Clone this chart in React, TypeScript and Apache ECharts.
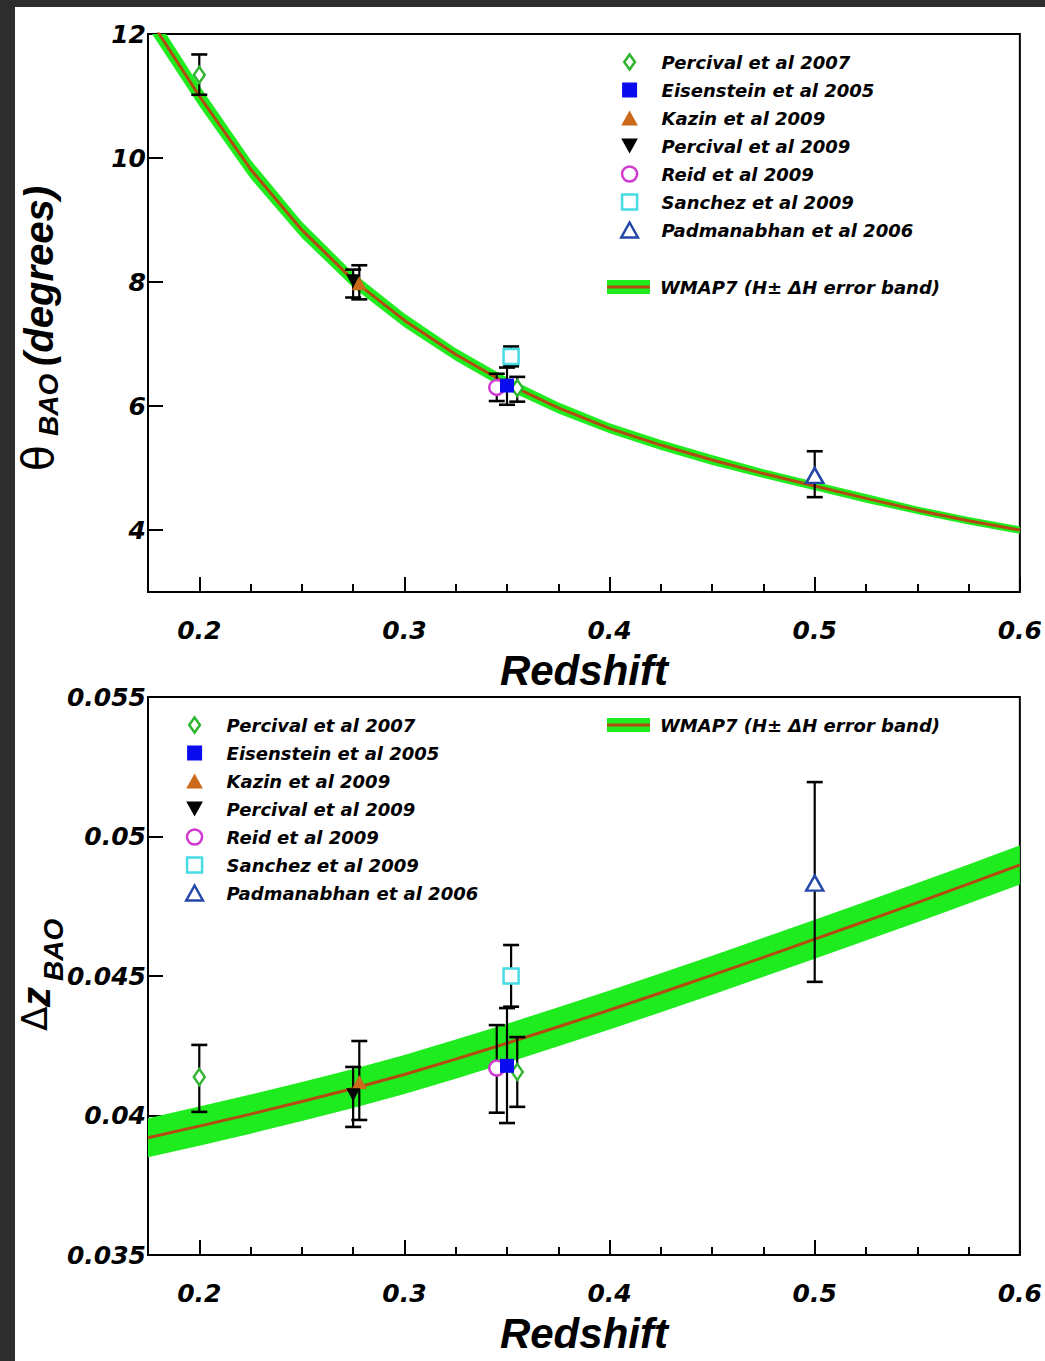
import React, { useEffect, useRef } from "react";
import * as echarts from "echarts";

// Redshift samples of the WMAP7 prediction
const zModel = [0.175, 0.2, 0.225, 0.25, 0.275, 0.3, 0.325, 0.35, 0.375, 0.4, 0.425, 0.45, 0.475, 0.5, 0.525, 0.55, 0.575, 0.6];

// Angular BAO scale (degrees): central value and H ± ΔH band
const thetaModel = [12.28, 11.0, 9.82, 8.84, 8.03, 7.38, 6.83, 6.36, 5.97, 5.64, 5.37, 5.13, 4.91, 4.71, 4.51, 4.32, 4.15, 4.0];
const thetaModelHigh = [12.46, 11.17, 9.97, 8.97, 8.15, 7.49, 6.93, 6.46, 6.06, 5.72, 5.45, 5.21, 4.98, 4.78, 4.58, 4.38, 4.21, 4.06];
const thetaModelLow = [12.1, 10.84, 9.67, 8.71, 7.91, 7.27, 6.73, 6.26, 5.88, 5.56, 5.29, 5.05, 4.84, 4.64, 4.44, 4.26, 4.09, 3.94];

// Radial BAO scale: central value and H ± ΔH band
const dzModel = [0.0392, 0.03962, 0.04005, 0.0405, 0.04097, 0.04147, 0.04202, 0.04259, 0.04318, 0.04378, 0.0444, 0.04503, 0.04567, 0.04632, 0.04697, 0.04763, 0.0483, 0.04898];
const dzModelHigh = [0.0399, 0.04032, 0.04075, 0.0412, 0.04167, 0.04217, 0.04272, 0.04329, 0.04388, 0.04448, 0.0451, 0.04573, 0.04637, 0.04702, 0.04767, 0.04833, 0.049, 0.04968];
const dzModelLow = [0.0385, 0.03892, 0.03935, 0.0398, 0.04027, 0.04077, 0.04132, 0.04189, 0.04248, 0.04308, 0.0437, 0.04433, 0.04497, 0.04562, 0.04627, 0.04693, 0.0476, 0.04828];

// Axis ticks
const xMajorTicks = [0.2, 0.3, 0.4, 0.5, 0.6];
const xMinorTicks = [0.225, 0.25, 0.275, 0.325, 0.35, 0.375, 0.425, 0.45, 0.475, 0.525, 0.55, 0.575];
const thetaTicks = [4, 6, 8, 10, 12];
const dzTicks = [0.035, 0.04, 0.045, 0.05, 0.055];

// Survey names, in legend order
const surveyNames = [
  "Percival et al 2007",
  "Eisenstein et al 2005",
  "Kazin et al 2009",
  "Percival et al 2009",
  "Reid et al 2009",
  "Sanchez et al 2009",
  "Padmanabhan et al 2006",
];

// Measurements: [z, value, lower error, upper error]
const thetaPercival2007 = [[0.2, 11.34, 11.02, 11.67], [0.355, 6.29, 6.07, 6.47]];
const thetaEisenstein2005 = [[0.35, 6.33, 6.02, 6.62]];
const thetaKazin2009 = [[0.278, 7.98, 7.72, 8.27]];
const thetaPercival2009 = [[0.275, 8.02, 7.75, 8.2]];
const thetaReid2009 = [[0.345, 6.3, 6.08, 6.52]];
const thetaSanchez2009 = [[0.352, 6.8, 6.64, 6.96]];
const thetaPadmanabhan2006 = [[0.5, 4.88, 4.53, 5.27]];

const dzPercival2007 = [[0.2, 0.04138, 0.04013, 0.04253], [0.355, 0.04156, 0.04031, 0.04281]];
const dzEisenstein2005 = [[0.35, 0.04178, 0.03973, 0.04385]];
const dzKazin2009 = [[0.278, 0.0412, 0.03984, 0.04267]];
const dzPercival2009 = [[0.275, 0.04074, 0.03959, 0.04174]];
const dzReid2009 = [[0.345, 0.0417, 0.0401, 0.04324]];
const dzSanchez2009 = [[0.352, 0.045, 0.0439, 0.04611]];
const dzPadmanabhan2006 = [[0.5, 0.04833, 0.04479, 0.05195]];

const thetaData: Record<string, number[][]> = {
  "Percival et al 2007": thetaPercival2007,
  "Eisenstein et al 2005": thetaEisenstein2005,
  "Kazin et al 2009": thetaKazin2009,
  "Percival et al 2009": thetaPercival2009,
  "Reid et al 2009": thetaReid2009,
  "Sanchez et al 2009": thetaSanchez2009,
  "Padmanabhan et al 2006": thetaPadmanabhan2006,
};
const dzData: Record<string, number[][]> = {
  "Percival et al 2007": dzPercival2007,
  "Eisenstein et al 2005": dzEisenstein2005,
  "Kazin et al 2009": dzKazin2009,
  "Percival et al 2009": dzPercival2009,
  "Reid et al 2009": dzReid2009,
  "Sanchez et al 2009": dzSanchez2009,
  "Padmanabhan et al 2006": dzPadmanabhan2006,
};

// Marker shapes (path symbols keep their aspect ratio in the legend)
const DIAMOND = "path://M5,0L10,7L5,14L0,7Z";
const SQUARE = "path://M0,0L10,0L10,10L0,10Z";
const UP_TRIANGLE = "path://M5,0L10,9L0,9Z";
const DOWN_TRIANGLE = "path://M0,0L10,0L5,9Z";
const CIRCLE = "path://M0,5A5,5 0 1,1 10,5A5,5 0 1,1 0,5Z";

type MarkerStyle = { symbol: string; size: number[]; fill: string; stroke?: string; strokeWidth?: number };
const markerStyles: Record<string, MarkerStyle> = {
  "Percival et al 2007": { symbol: DIAMOND, size: [11, 16], fill: "#ffffff", stroke: "#2fb52f", strokeWidth: 2.5 },
  "Eisenstein et al 2005": { symbol: SQUARE, size: [14, 14], fill: "#0b0bf0" },
  "Kazin et al 2009": { symbol: UP_TRIANGLE, size: [15, 14], fill: "#cc6a1c" },
  "Percival et al 2009": { symbol: DOWN_TRIANGLE, size: [14, 13], fill: "#000000" },
  "Reid et al 2009": { symbol: CIRCLE, size: [15, 15], fill: "#ffffff", stroke: "#d13ad1", strokeWidth: 2.5 },
  "Sanchez et al 2009": { symbol: SQUARE, size: [15, 15], fill: "#ffffff", stroke: "#47dbe3", strokeWidth: 2.5 },
  "Padmanabhan et al 2006": { symbol: UP_TRIANGLE, size: [17, 15], fill: "#ffffff", stroke: "#2447a8", strokeWidth: 2.5 },
};
// drawing order (later ones on top)
const drawOrder = [
  "Percival et al 2007",
  "Reid et al 2009",
  "Eisenstein et al 2005",
  "Kazin et al 2009",
  "Percival et al 2009",
  "Sanchez et al 2009",
  "Padmanabhan et al 2006",
];

const BAND_GREEN = "#1fec1f";
const LINE_BROWN = "#b24a12";
const TICK_FONT = { fontFamily: "DejaVu Sans", fontStyle: "italic" as const, fontWeight: "bold" as const, fontSize: 25, color: "#000", lineHeight: 25 };
const LEGEND_FONT = { fontFamily: "DejaVu Sans", fontStyle: "italic" as const, fontWeight: "bold" as const, fontSize: 18, color: "#000" };
const TITLE_FONT = { fontFamily: "Liberation Sans", fontStyle: "italic" as const, fontWeight: "bold" as const };

const GRID_LEFT = 148;
const GRID_W = 872;
const GRID_H = 558;
const TOP_GRID_TOP = 34;
const BOTTOM_GRID_TOP = 697;

function itemStyleOf(s: MarkerStyle) {
  return s.stroke
    ? { color: s.fill, borderColor: s.stroke, borderWidth: s.strokeWidth, opacity: 1 }
    : { color: s.fill, borderWidth: 0, opacity: 1 };
}

function xAxes(gridIndex: number) {
  return [
    {
      type: "value",
      gridIndex,
      position: "bottom",
      min: 0.175,
      max: 0.6,
      name: "Redshift",
      nameLocation: "middle",
      nameGap: 57,
      nameTextStyle: { ...TITLE_FONT, fontSize: 42, lineHeight: 42, color: "#000" },
      axisLine: { show: true, onZero: false, lineStyle: { color: "#000", width: 2 } },
      axisTick: { show: true, inside: true, length: 15, customValues: xMajorTicks, lineStyle: { color: "#000", width: 2 } },
      axisLabel: { ...TICK_FONT, margin: 26, customValues: xMajorTicks, formatter: (v: number) => v.toFixed(1) },
      splitLine: { show: false },
    },
    {
      type: "value",
      gridIndex,
      position: "bottom",
      min: 0.175,
      max: 0.6,
      axisLine: { show: false, onZero: false },
      axisTick: { show: true, inside: true, length: 8, customValues: xMinorTicks, lineStyle: { color: "#000", width: 2 } },
      axisLabel: { show: false },
      splitLine: { show: false },
    },
  ];
}

function yAxis(gridIndex: number, min: number, max: number, ticks: number[], fmt: (v: number) => string) {
  return {
    type: "value",
    gridIndex,
    position: "left",
    min,
    max,
    axisLine: { show: true, onZero: false, lineStyle: { color: "#000", width: 2 } },
    axisTick: { show: true, inside: true, length: 15, customValues: ticks, lineStyle: { color: "#000", width: 2 } },
    axisLabel: { ...TICK_FONT, margin: 2, customValues: ticks, formatter: fmt },
    splitLine: { show: false },
  };
}

function bandSeries(xAxisIndex: number, yAxisIndex: number, high: number[], low: number[], anchor: number[]) {
  return {
    type: "custom",
    xAxisIndex,
    yAxisIndex,
    clip: true,
    silent: true,
    z: 1,
    data: [anchor],
    renderItem: (_params: any, api: any) => {
      const pts: number[][] = [];
      for (let i = 0; i < zModel.length; i++) pts.push(api.coord([zModel[i], high[i]]));
      for (let i = zModel.length - 1; i >= 0; i--) pts.push(api.coord([zModel[i], low[i]]));
      return { type: "polygon", shape: { points: pts }, style: { fill: BAND_GREEN, stroke: "none" } };
    },
  };
}

function centerLine(xAxisIndex: number, yAxisIndex: number, values: number[]) {
  return {
    type: "line",
    name: "WMAP7",
    xAxisIndex,
    yAxisIndex,
    data: zModel.map((z, i) => [z, values[i]]),
    symbol: "none",
    clip: true,
    silent: true,
    z: 2,
    lineStyle: { color: LINE_BROWN, width: 3 },
  };
}

function errorBarSeries(xAxisIndex: number, yAxisIndex: number, data: Record<string, number[][]>) {
  const rows: number[][] = [];
  surveyNames.forEach((n) => data[n].forEach((d) => rows.push([d[0], d[2], d[3]])));
  return {
    type: "custom",
    xAxisIndex,
    yAxisIndex,
    silent: true,
    z: 3,
    data: rows,
    encode: { x: 0, y: [1, 2] },
    renderItem: (_params: any, api: any) => {
      const z = api.value(0);
      const lo = api.coord([z, api.value(1)]);
      const hi = api.coord([z, api.value(2)]);
      const hw = 8;
      const st = { stroke: "#000", lineWidth: 2.2 };
      return {
        type: "group",
        children: [
          { type: "line", shape: { x1: lo[0], y1: lo[1], x2: hi[0], y2: hi[1] }, style: st },
          { type: "line", shape: { x1: lo[0] - hw, y1: lo[1], x2: lo[0] + hw, y2: lo[1] }, style: { ...st, lineWidth: 2.6 } },
          { type: "line", shape: { x1: hi[0] - hw, y1: hi[1], x2: hi[0] + hw, y2: hi[1] }, style: { ...st, lineWidth: 2.6 } },
        ],
      };
    },
  };
}

function markerSeries(xAxisIndex: number, yAxisIndex: number, data: Record<string, number[][]>) {
  return drawOrder.map((name, k) => {
    const s = markerStyles[name];
    return {
      type: "scatter",
      name,
      xAxisIndex,
      yAxisIndex,
      data: data[name].map((d) => [d[0], d[1]]),
      symbol: s.symbol,
      symbolSize: s.size,
      symbolKeepAspect: false,
      itemStyle: itemStyleOf(s),
      silent: true,
      z: 4 + k * 0.01,
    };
  });
}

function legendAt(left: number, top: number) {
  return {
    orient: "vertical",
    left,
    top,
    padding: 0,
    itemGap: 0,
    itemWidth: 54,
    itemHeight: 15,
    symbolKeepAspect: true,
    selectedMode: false,
    textStyle: { ...LEGEND_FONT, lineHeight: 28 },
    data: surveyNames.map((name) => {
      const s = markerStyles[name];
      return { name, icon: s.symbol, itemStyle: itemStyleOf(s) };
    }),
  };
}

function wmapLegend(x: number, y: number) {
  return [
    { type: "rect", shape: { x, y: y - 7, width: 43, height: 14 }, style: { fill: BAND_GREEN }, z: 10 },
    { type: "line", shape: { x1: x, y1: y, x2: x + 43, y2: y }, style: { stroke: LINE_BROWN, lineWidth: 3 }, z: 11 },
    {
      type: "text",
      x: x + 53,
      y,
      z: 11,
      style: { text: "WMAP7 (H\u00b1 \u0394H error band)", ...LEGEND_FONT, fill: "#000", align: "left", verticalAlign: "middle" },
    },
  ];
}

function vText(text: string, x: number, y: number, size: number, family: string, italic: boolean, bold: boolean) {
  return {
    type: "text",
    x,
    y,
    rotation: Math.PI / 2,
    z: 11,
    style: {
      text,
      fontSize: size,
      fontFamily: family,
      fontStyle: italic ? "italic" : "normal",
      fontWeight: bold ? "bold" : "normal",
      fill: "#000",
      align: "left",
      verticalAlign: "middle",
    },
  };
}

export default function App() {
  const ref = useRef<HTMLDivElement>(null);

  useEffect(() => {
    if (!ref.current) return;
    const chart = echarts.init(ref.current, null, { renderer: "svg" });
    const option: any = {
      animation: false,
      backgroundColor: "transparent",
      grid: [
        { left: GRID_LEFT, top: TOP_GRID_TOP, width: GRID_W, height: GRID_H, show: true, borderColor: "#000", borderWidth: 2, backgroundColor: "transparent" },
        { left: GRID_LEFT, top: BOTTOM_GRID_TOP, width: GRID_W, height: GRID_H, show: true, borderColor: "#000", borderWidth: 2, backgroundColor: "transparent" },
      ],
      xAxis: [...xAxes(0), ...xAxes(1)],
      yAxis: [
        yAxis(0, 3, 12, thetaTicks, (v: number) => String(v)),
        yAxis(1, 0.035, 0.055, dzTicks, (v: number) => String(parseFloat(v.toFixed(3)))),
      ],
      legend: [legendAt(620, 48), legendAt(185, 711)],
      series: [
        bandSeries(0, 0, thetaModelHigh, thetaModelLow, [zModel[9], thetaModel[9]]),
        centerLine(0, 0, thetaModel),
        errorBarSeries(0, 0, thetaData),
        ...markerSeries(0, 0, thetaData),
        bandSeries(2, 1, dzModelHigh, dzModelLow, [zModel[9], dzModel[9]]),
        centerLine(2, 1, dzModel),
        errorBarSeries(2, 1, dzData),
        ...markerSeries(2, 1, dzData),
      ],
      graphic: [
        ...wmapLegend(607, 287),
        ...wmapLegend(607, 725),
        // theta_BAO (degrees)
        vText("\u03b8", 38, 471, 42, "DejaVu Sans", false, false),
        vText("BAO", 48, 436, 28, "Liberation Sans", true, true),
        vText("(degrees)", 39, 366, 40, "Liberation Sans", true, true),
        // Delta z_BAO
        vText("\u0394", 34, 1031, 36, "DejaVu Sans", false, false),
        vText("z", 36, 1007, 40, "Liberation Sans", true, true),
        vText("BAO", 53, 981, 28, "Liberation Sans", true, true),
      ],
    };
    chart.setOption(option);
    return () => chart.dispose();
  }, []);

  return (
    <div style={{ position: "absolute", left: 0, top: 0, width: 1045, height: 1361, background: "#2d2d2d", overflow: "hidden" }}>
      <div style={{ position: "absolute", left: 15, top: 7, right: 0, bottom: 0, background: "#ffffff" }} />
      <div ref={ref} style={{ position: "absolute", left: 0, top: 0, width: 1045, height: 1361 }} />
    </div>
  );
}
